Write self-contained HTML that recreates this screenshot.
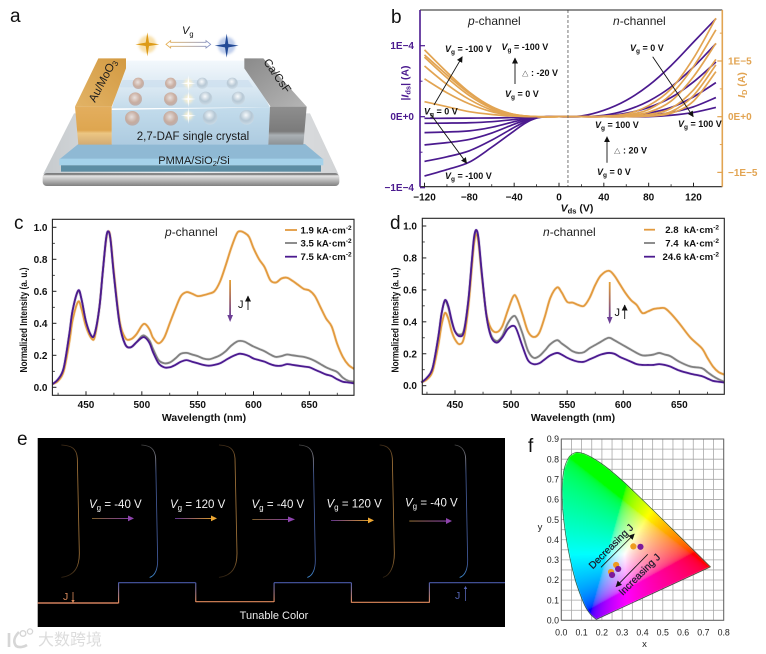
<!DOCTYPE html>
<html lang="en">
<head>
<meta charset="utf-8">
<title>2,7-DAF light-emitting transistor figure</title>
<style>
  html, body { margin: 0; padding: 0; background: #fff; }
  #stage { position: relative; width: 766px; height: 654px; overflow: hidden; background: #fff; font-family: "Liberation Sans", "Noto Sans CJK SC", sans-serif; }
  #stage svg, #stage canvas { position: absolute; left: 0; top: 0; }
  text { font-family: "Liberation Sans", "Noto Sans CJK SC", sans-serif; }
  .panel { font-size: 19px; fill: #111; }
  .ann { font-size: 9px; font-weight: 700; fill: #111; }
  .tick { font-size: 10px; font-weight: 700; fill: #111; }
  .leg { font-size: 9.6px; font-weight: 700; fill: #111; }
  .title { font-size: 12px; fill: #222; }
  .wh { font-size: 11.5px; fill: #f2f2f2; }
</style>
</head>
<body>
<div id="stage">

  <svg id="cie-grid-layer" width="766" height="654"></svg>
  <canvas id="cie-canvas" width="766" height="654"></canvas>

  <svg id="main" width="766" height="654" viewBox="0 0 766 654">
    <defs>
      <marker id="ah" markerUnits="userSpaceOnUse" markerWidth="7" markerHeight="7" refX="5.5" refY="3" orient="auto"><path d="M0 0L6 3L0 6Z" fill="#111"/></marker>
      <linearGradient id="gArrowDown" x1="0" y1="0" x2="0" y2="1"><stop offset="0" stop-color="#e5a032"/><stop offset="1" stop-color="#6d3f96"/></linearGradient>
      <linearGradient id="gOP" x1="0" y1="0" x2="1" y2="0"><stop offset="0" stop-color="#8a6a30"/><stop offset="1" stop-color="#8e44ad"/></linearGradient>
      <linearGradient id="gPO" x1="0" y1="0" x2="1" y2="0"><stop offset="0" stop-color="#6a3a9a"/><stop offset="1" stop-color="#eda733"/></linearGradient>
      <linearGradient id="gBrO" x1="0" y1="0" x2="0" y2="1"><stop offset="0" stop-color="#3f2c18"/><stop offset=".12" stop-color="#9c7038"/><stop offset=".85" stop-color="#9c7038"/><stop offset="1" stop-color="#2a1e10"/></linearGradient>
      <linearGradient id="gBrB" x1="0" y1="0" x2="0" y2="1"><stop offset="0" stop-color="#444"/><stop offset=".1" stop-color="#80808e"/><stop offset=".22" stop-color="#42578f"/><stop offset=".9" stop-color="#425a9c"/><stop offset="1" stop-color="#3f8ad0"/></linearGradient>
      <linearGradient id="gStepUp" x1="0" y1="1" x2="0" y2="0"><stop offset="0" stop-color="#e08a5c"/><stop offset="1" stop-color="#4a5aa8"/></linearGradient>
      <linearGradient id="gGold" x1="0" y1="0" x2="0" y2="1"><stop offset="0" stop-color="#e3ae5e"/><stop offset=".62" stop-color="#dea650"/><stop offset=".7" stop-color="#ecc683"/><stop offset="1" stop-color="#d2ab74"/></linearGradient>
      <linearGradient id="gGoldTop" x1="1" y1="0" x2="0" y2="1"><stop offset="0" stop-color="#d39a42"/><stop offset="1" stop-color="#e2b366"/></linearGradient>
      <linearGradient id="gSteel" x1="0" y1="0" x2="0" y2="1"><stop offset="0" stop-color="#8e8e8e"/><stop offset=".65" stop-color="#7b7b7b"/><stop offset=".75" stop-color="#aab0b4"/><stop offset="1" stop-color="#8c9296"/></linearGradient>
      <linearGradient id="gSteelTop" x1="0" y1="0" x2="1" y2="1"><stop offset="0" stop-color="#8a8a8a"/><stop offset="1" stop-color="#b5b5b5"/></linearGradient>
      <linearGradient id="gCrystal" x1="0" y1="0" x2="0" y2="1"><stop offset="0" stop-color="#f3f8fc"/><stop offset=".55" stop-color="#dbe9f3"/><stop offset="1" stop-color="#c4dbea"/></linearGradient>
      <linearGradient id="gFront" x1="0" y1="0" x2="0" y2="1"><stop offset="0" stop-color="#c3dcec"/><stop offset="1" stop-color="#adcbe0"/></linearGradient>
      <linearGradient id="gBaseBar" x1="0" y1="0" x2="0" y2="1"><stop offset="0" stop-color="#3a3a3a"/><stop offset=".2" stop-color="#e4e4e4"/><stop offset=".55" stop-color="#b8b8b8"/><stop offset="1" stop-color="#808080"/></linearGradient>
      <linearGradient id="gPlate" x1="0" y1="0" x2="1" y2="0"><stop offset="0" stop-color="#c6cacd"/><stop offset=".5" stop-color="#eef0f2"/><stop offset="1" stop-color="#d2d4d6"/></linearGradient>
      <linearGradient id="gLink" x1="0" y1="0" x2="1" y2="0"><stop offset="0" stop-color="#e8b050"/><stop offset="1" stop-color="#8090c8"/></linearGradient>
      <radialGradient id="gBallB" cx=".45" cy=".4" r=".7"><stop offset="0" stop-color="#efe2dc"/><stop offset=".55" stop-color="#c9a28e"/><stop offset="1" stop-color="#b5a7a8"/></radialGradient>
      <radialGradient id="gBallG" cx=".45" cy=".35" r=".7"><stop offset="0" stop-color="#ffffff"/><stop offset=".55" stop-color="#b3c4d1"/><stop offset="1" stop-color="#d2e0ea"/></radialGradient>
      <filter id="blur4" x="-80%" y="-80%" width="260%" height="260%"><feGaussianBlur stdDeviation="4"/></filter>
    </defs>

    <!-- ============ Panel a ============ -->
    <text class="panel" x="10" y="22">a</text>
    <g id="device" transform="scale(.33333)">
      <polygon points="222,340 930,340 1015,522 130,522" fill="url(#gPlate)"/>
      <rect x="128" y="520" width="890" height="38" rx="12" fill="url(#gBaseBar)"/>
      <polygon points="235,432 915,432 970,478 178,478" fill="#8fb9d4"/>
      <rect x="178" y="476" width="792" height="20" fill="#a5d2ea"/>
      <rect x="183" y="496" width="780" height="19" fill="#5d8da3"/>
      <polygon points="380,182 735,182 810,322 335,325" fill="url(#gCrystal)"/>
      <polygon points="335,330 810,322 805,434 335,434" fill="url(#gFront)"/>
      <polygon points="368,240 745,240 760,262 358,262" fill="#c8dcec" opacity=".6"/>
      <g opacity=".8">
        <circle cx="415" cy="250" r="17" fill="url(#gBallB)"/><circle cx="512" cy="250" r="17" fill="url(#gBallB)"/>
        <circle cx="406" cy="297" r="20" fill="url(#gBallB)"/><circle cx="512" cy="297" r="20" fill="url(#gBallB)"/>
        <circle cx="397" cy="355" r="22" fill="url(#gBallB)"/><circle cx="512" cy="355" r="22" fill="url(#gBallB)"/>
      </g>
      <g opacity=".85">
        <circle cx="607" cy="250" r="17" fill="url(#gBallG)"/><circle cx="697" cy="250" r="17" fill="url(#gBallG)"/>
        <circle cx="617" cy="295" r="20" fill="url(#gBallG)"/><circle cx="715" cy="295" r="20" fill="url(#gBallG)"/>
        <circle cx="630" cy="352" r="22" fill="url(#gBallG)"/><circle cx="740" cy="352" r="22" fill="url(#gBallG)"/>
      </g>
      <g>
        <circle cx="565" cy="250" r="13" fill="#fff3cc" opacity=".8" filter="url(#blur4)"/>
        <circle cx="565" cy="297" r="13" fill="#fff3cc" opacity=".8" filter="url(#blur4)"/>
        <circle cx="565" cy="347" r="13" fill="#fff3cc" opacity=".8" filter="url(#blur4)"/>
        <path d="M565 225L567.5 247.5L588 250L567.5 252.5L565 275L562.5 252.5L542 250L562.5 247.5Z" fill="#fff"/>
        <path d="M565 272L567.5 294.5L588 297L567.5 299.5L565 322L562.5 299.5L542 297L562.5 294.5Z" fill="#fff"/>
        <path d="M565 322L567.5 344.5L588 347L567.5 349.5L565 372L562.5 349.5L542 347L562.5 344.5Z" fill="#fff"/>
      </g>
      <polygon points="295,175 378,175 378,205 335,320 225,320" fill="url(#gGoldTop)"/>
      <polygon points="225,320 335,320 335,434 235,434" fill="url(#gGold)"/>
      <polygon points="733,175 790,175 920,320 812,320 733,205" fill="url(#gSteelTop)"/>
      <polygon points="810,320 920,320 910,434 805,434" fill="url(#gSteel)"/>
      <circle cx="442" cy="133" r="26" fill="#f2c25a" opacity=".5" filter="url(#blur4)"/>
      <path d="M442 97L447 128L478 133L447 138L442 169L437 138L406 133L437 128Z" fill="#dd9b17"/>
      <circle cx="680" cy="137" r="26" fill="#7f9cd8" opacity=".5" filter="url(#blur4)"/>
      <path d="M680 101L685 132L716 137L685 142L680 173L675 142L644 137L675 132Z" fill="#234a96"/>
      <path d="M498 133L512 122V127H618V122L632 133L618 144V139H512V144Z" fill="#fff" stroke="url(#gLink)" stroke-width="2.5"/>
    </g>
    <text x="182" y="34" font-size="11" font-style="italic" fill="#111">V<tspan font-size="7.5" dy="2.5" font-style="normal">g</tspan></text>
    <text x="193" y="140" font-size="11.5" text-anchor="middle" fill="#1c1c1c">2,7-DAF single crystal</text>
    <text x="194" y="164" font-size="11" text-anchor="middle" fill="#1c1c1c">PMMA/SiO<tspan font-size="7.5" dy="2">2</tspan><tspan dy="-2">/Si</tspan></text>
    <text transform="translate(95,103) rotate(-62)" font-size="11.5" fill="#1c1c1c">Au/MoO<tspan font-size="8" dy="2">3</tspan></text>
    <text transform="translate(263,62) rotate(55)" font-size="11.5" fill="#1c1c1c">Ca/CsF</text>

    <!-- ============ Panel b ============ -->
    <text class="panel" x="391" y="23">b</text>
    <g id="chart-b"></g>
    <text class="title" x="468" y="25"><tspan font-style="italic">p</tspan>-channel</text>
    <text class="title" x="613" y="25"><tspan font-style="italic">n</tspan>-channel</text>
    <g>
      <text class="ann" x="445" y="52"><tspan font-style="italic">V</tspan><tspan font-size="6.5" dy="2">g</tspan><tspan dy="-2"> = -100 V</tspan></text>
      <text class="ann" x="501.5" y="50"><tspan font-style="italic">V</tspan><tspan font-size="6.5" dy="2">g</tspan><tspan dy="-2"> = -100 V</tspan></text>
      <text class="ann" x="522" y="76"><tspan font-size="6.5">△</tspan> : -20 V</text>
      <text class="ann" x="505" y="97"><tspan font-style="italic">V</tspan><tspan font-size="6.5" dy="2">g</tspan><tspan dy="-2"> = 0 V</tspan></text>
      <text class="ann" x="424" y="114.5"><tspan font-style="italic">V</tspan><tspan font-size="6.5" dy="2">g</tspan><tspan dy="-2"> = 0 V</tspan></text>
      <text class="ann" x="445" y="179"><tspan font-style="italic">V</tspan><tspan font-size="6.5" dy="2">g</tspan><tspan dy="-2"> = -100 V</tspan></text>
      <text class="ann" x="630" y="51"><tspan font-style="italic">V</tspan><tspan font-size="6.5" dy="2">g</tspan><tspan dy="-2"> = 0 V</tspan></text>
      <text class="ann" x="595" y="128"><tspan font-style="italic">V</tspan><tspan font-size="6.5" dy="2">g</tspan><tspan dy="-2"> = 100 V</tspan></text>
      <text class="ann" x="614" y="153.5"><tspan font-size="6.5">△</tspan> : 20 V</text>
      <text class="ann" x="597" y="175"><tspan font-style="italic">V</tspan><tspan font-size="6.5" dy="2">g</tspan><tspan dy="-2"> = 0 V</tspan></text>
      <text class="ann" x="678" y="127"><tspan font-style="italic">V</tspan><tspan font-size="6.5" dy="2">g</tspan><tspan dy="-2"> = 100 V</tspan></text>
      <g fill="none" stroke="#111" stroke-width=".9" marker-end="url(#ah)">
        <line x1="434" y1="105" x2="462.3" y2="56.7"/>
        <line x1="515" y1="84" x2="515" y2="58"/>
        <line x1="430" y1="113.3" x2="466.7" y2="163.3"/>
        <line x1="652.7" y1="56.7" x2="693.3" y2="116.7"/>
        <line x1="607" y1="162.7" x2="607" y2="136.7"/>
      </g>
    </g>

    <!-- ============ Panel c ============ -->
    <text class="panel" x="14" y="229">c</text>
    <g id="chart-c"></g>
    <text class="title" x="165" y="236"><tspan font-style="italic">p</tspan>-channel</text>
    <g>
      <line x1="285" x2="297" y1="230" y2="230" stroke="#e29a3e" stroke-width="1.8"/>
      <text class="leg" x="300.5" y="233.5">1.9 kA·cm<tspan font-size="6.5" dy="-3.5">-2</tspan></text>
      <line x1="285" x2="297" y1="243" y2="243" stroke="#808080" stroke-width="1.8"/>
      <text class="leg" x="300.5" y="246.5">3.5 kA·cm<tspan font-size="6.5" dy="-3.5">-2</tspan></text>
      <line x1="285" x2="297" y1="256.7" y2="256.7" stroke="#4b1a8f" stroke-width="1.8"/>
      <text class="leg" x="300.5" y="260">7.5 kA·cm<tspan font-size="6.5" dy="-3.5">-2</tspan></text>
    </g>
    <g>
      <rect x="229.2" y="280" width="1.8" height="36" fill="url(#gArrowDown)"/>
      <path d="M227.3 315L233 315L230.1 322Z" fill="#6d3f96"/>
      <text x="238" y="308" font-size="11" fill="#111">J</text>
      <line x1="248" y1="310" x2="248" y2="296" stroke="#111" stroke-width=".9" marker-end="url(#ah)"/>
    </g>

    <!-- ============ Panel d ============ -->
    <text class="panel" x="390" y="229">d</text>
    <g id="chart-d"></g>
    <text class="title" x="543" y="236"><tspan font-style="italic">n</tspan>-channel</text>
    <g>
      <line x1="644" x2="655" y1="229.7" y2="229.7" stroke="#e29a3e" stroke-width="1.8"/>
      <text class="leg" x="719" y="233" text-anchor="end" xml:space="preserve">2.8  kA·cm<tspan font-size="6.5" dy="-3.5">-2</tspan></text>
      <line x1="644" x2="655" y1="243" y2="243" stroke="#808080" stroke-width="1.8"/>
      <text class="leg" x="719" y="246.5" text-anchor="end" xml:space="preserve">7.4  kA·cm<tspan font-size="6.5" dy="-3.5">-2</tspan></text>
      <line x1="644" x2="655" y1="256.7" y2="256.7" stroke="#4b1a8f" stroke-width="1.8"/>
      <text class="leg" x="719" y="260" text-anchor="end">24.6 kA·cm<tspan font-size="6.5" dy="-3.5">-2</tspan></text>
    </g>
    <g>
      <rect x="608.8" y="282" width="1.8" height="36" fill="url(#gArrowDown)"/>
      <path d="M606.9 317L612.5 317L609.7 324Z" fill="#6d3f96"/>
      <text x="614.5" y="316" font-size="11" fill="#111">J</text>
      <line x1="624.7" y1="319" x2="624.7" y2="305" stroke="#111" stroke-width=".9" marker-end="url(#ah)"/>
    </g>

    <!-- ============ Panel e ============ -->
    <text class="panel" x="17" y="445">e</text>
    <g>
      <rect x="37.7" y="438" width="467.3" height="189" fill="#000"/>
      <g transform="translate(0,430) scale(.33333)" fill="none" stroke-width="2.6" stroke-linecap="round">
        <path d="M185 45C215 47 230 55 232 85L238 370C238 410 225 436 185 442" stroke="url(#gBrO)"/>
        <path transform="translate(235,0)" d="M190 45C215 47 230 55 232 85L238 390C238 420 230 436 215 442" stroke="url(#gBrB)"/>
        <path transform="translate(473,0)" d="M185 45C215 47 230 55 232 85L238 370C238 410 225 436 185 442" stroke="url(#gBrO)"/>
        <path transform="translate(708,0)" d="M190 45C215 47 230 55 232 85L238 390C238 420 230 436 215 442" stroke="url(#gBrB)"/>
        <path transform="translate(945,0)" d="M195 45C215 47 230 55 232 85L238 370C238 410 225 436 205 442" stroke="url(#gBrO)"/>
        <path transform="translate(1165,0)" d="M200 45C215 47 230 55 232 85L238 390C238 420 230 436 215 442" stroke="url(#gBrB)"/>
        <g stroke-linecap="butt">
          <path d="M113 519H355" stroke="#cf7f5c" stroke-width="4.5"/>
          <path d="M355 458H587" stroke="#4a5aa8" stroke-width="3.5"/>
          <path d="M587 515H822" stroke="#e08a5c" stroke-width="3.5"/>
          <path d="M822 458H1054" stroke="#4a5aa8" stroke-width="3.5"/>
          <path d="M1054 517H1288" stroke="#e08a5c" stroke-width="3.5"/>
          <path d="M1288 458H1515" stroke="#4a5aa8" stroke-width="3.5"/>
        </g>
        <rect x="354" y="458" width="3.5" height="62" fill="url(#gStepUp)" stroke="none"/>
        <rect x="585.5" y="458" width="3.5" height="58" fill="url(#gStepUp)" stroke="none"/>
        <rect x="820.5" y="458" width="3.5" height="58" fill="url(#gStepUp)" stroke="none"/>
        <rect x="1052.5" y="458" width="3.5" height="60" fill="url(#gStepUp)" stroke="none"/>
        <rect x="1286.5" y="458" width="3.5" height="60" fill="url(#gStepUp)" stroke="none"/>
      </g>
      <text class="wh" x="89" y="508"><tspan font-style="italic">V</tspan><tspan font-size="8" dy="2.5">g</tspan><tspan dy="-2.5"> = -40 V</tspan></text>
      <text class="wh" x="170" y="508"><tspan font-style="italic">V</tspan><tspan font-size="8" dy="2.5">g</tspan><tspan dy="-2.5"> = 120 V</tspan></text>
      <text class="wh" x="251.5" y="508"><tspan font-style="italic">V</tspan><tspan font-size="8" dy="2.5">g</tspan><tspan dy="-2.5"> = -40 V</tspan></text>
      <text class="wh" x="326.5" y="507.5"><tspan font-style="italic">V</tspan><tspan font-size="8" dy="2.5">g</tspan><tspan dy="-2.5"> = 120 V</tspan></text>
      <text class="wh" x="405" y="506.5"><tspan font-style="italic">V</tspan><tspan font-size="8" dy="2.5">g</tspan><tspan dy="-2.5"> = -40 V</tspan></text>
      <g>
        <rect x="92" y="518" width="37" height=".9" fill="url(#gOP)"/><path d="M128 515.5L134 518.4L128 521.3Z" fill="#8e44ad"/>
        <rect x="175" y="518" width="37" height=".9" fill="url(#gPO)"/><path d="M211 515.5L217 518.4L211 521.3Z" fill="#eda733"/>
        <rect x="252.3" y="519" width="37" height=".9" fill="url(#gOP)"/><path d="M288 516.5L295 519.4L288 522.3Z" fill="#8e44ad"/>
        <rect x="331" y="520" width="37" height=".9" fill="url(#gPO)"/><path d="M368 517.5L374 520.4L368 523.3Z" fill="#eda733"/>
        <rect x="409.3" y="520.5" width="37" height="1.1" fill="url(#gOP)"/><path d="M446 518L452 521L446 524Z" fill="#8e44ad"/>
      </g>
      <text x="63" y="600" font-size="10.5" fill="#d98a5c">J</text>
      <line x1="73" y1="592" x2="73" y2="601" stroke="#d98a5c" stroke-width=".8"/>
      <path d="M71.3 600L74.7 600L73 603Z" fill="#d98a5c"/>
      <text x="455" y="599" font-size="10.5" fill="#5565b5">J</text>
      <line x1="465.5" y1="601" x2="465.5" y2="588" stroke="#5565b5" stroke-width=".8"/>
      <path d="M463.8 589L467.2 589L465.5 586Z" fill="#5565b5"/>
      <text x="274" y="619" font-size="11" text-anchor="middle" fill="#eee">Tunable Color</text>
    </g>

    <!-- Watermark -->
    <g>
      <path d="M9 633V647M19 632C14 637 13 642 16 646C19 648 24 647 27 645" fill="none" stroke="#d6d6d6" stroke-width="2.6"/>
      <circle cx="23" cy="633.5" r="2.8" fill="none" stroke="#d6d6d6" stroke-width="1.3"/>
      <circle cx="30" cy="631.5" r="2.6" fill="none" stroke="#d6d6d6" stroke-width="1.3"/>
      <text x="38" y="645" font-size="16" fill="#dcdcdc">大数跨境</text>
    </g>

    <!-- ============ Panel f ============ -->
    <text class="panel" x="528" y="452">f</text>
    <g id="chart-f"></g>
    <g>
      <line x1="601" y1="567.3" x2="634.3" y2="534" stroke="#111" stroke-width=".8" marker-end="url(#ah)"/>
      <text transform="translate(611.5,547) rotate(-45)" font-size="10" stroke="#1a1a2a" stroke-width=".25" fill="#1a1a2a" text-anchor="middle" dominant-baseline="middle">Decreasing J</text>
      <line x1="647.7" y1="554.3" x2="616" y2="586.7" stroke="#111" stroke-width=".8" marker-end="url(#ah)"/>
      <text transform="translate(640,575) rotate(-45)" font-size="10" stroke="#1a1a2a" stroke-width=".25" fill="#1a1a2a" text-anchor="middle" dominant-baseline="middle">Increasing J</text>
    </g>
  </svg>
</div>

<script>
/* ---------- Panel b data ---------- */
const vdsP = [-120,-100,-80,-60,-40,-30,-20,-10,0];
const idsPChannel = [
  [-0.836,-0.745,-0.64,-0.43,-0.2,-0.09,-0.02,0,0],
  [-0.63,-0.565,-0.48,-0.33,-0.15,-0.07,-0.015,0,0],
  [-0.397,-0.365,-0.32,-0.23,-0.105,-0.05,-0.012,0,0],
  [-0.224,-0.215,-0.2,-0.15,-0.07,-0.035,-0.01,0,0],
  [-0.093,-0.09,-0.085,-0.07,-0.04,-0.02,-0.005,0,0],
  [-0.023,-0.022,-0.02,-0.018,-0.012,-0.008,-0.003,0,0]
];
const vdsN = [0,20,40,60,80,100,120,140];
const idsNChannel = [
  [0,0.01,0.09,0.23,0.44,0.72,1.05,1.38],
  [0,0,0.02,0.09,0.22,0.42,0.70,1.03],
  [0,0,0.01,0.05,0.13,0.27,0.49,0.77],
  [0,0,0,0.01,0.05,0.13,0.28,0.48],
  [0,0,0,0,0.02,0.06,0.14,0.27],
  [0,0,0,0,0,0.02,0.06,0.13]
];
const vdsLightP = [-120,-100,-80,-60,-40,-20,0];
const lightPChannel = [
  [1.2,0.8,0.44,0.18,0.04,0,0],
  [1.11,0.75,0.42,0.17,0.04,0,0],
  [1.07,0.70,0.38,0.15,0.035,0,0],
  [0.91,0.58,0.31,0.12,0.03,0,0],
  [0.68,0.43,0.23,0.09,0.02,0,0],
  [0.27,0.18,0.09,0.04,0.01,0,0]
];
const lightNChannel = [
  [0,0,0.01,0.05,0.2,0.5,1.05,1.77],
  [0,0,0,0.03,0.13,0.4,0.9,1.56],
  [0,0,0,0.02,0.08,0.28,0.72,1.32],
  [0,0,0,0.01,0.04,0.15,0.48,1.03],
  [0,0,0,0,0.02,0.09,0.38,0.93],
  [0,0,0,0,0.01,0.06,0.28,0.81]
];
const bXTicks = [-120,-80,-40,0,40,80,120];
const bXTickLabels = ['−120','−80','−40','0','40','80','120'];
const bXMinor = [-100,-60,-20,20,60,100];
const bLeftTicks = [1,0,-1];
const bLeftLabels = ['1E−4','0E+0','−1E−4'];
const bLeftMinor = [0.5,-0.5];
const bRightTicks = [1,0,-1];
const bRightLabels = ['1E−5','0E+0','−1E−5'];
const bRightMinor = [1.5,0.5,-0.5];
const channelDividerV = 8;

/* ---------- Panel c data ---------- */
const wavelengthsC = [
  420,425,430,435,438,443,446,450,455,458,
  462,465,468,470,472,475,480,485,490,495,
  500,503,507,510,515,520,525,530,535,540,
  545,550,555,560,565,570,575,580,585,588,
  592,596,600,605,610,615,620,625,630,635,
  640,645,650,655,660,665,670,675,680,685,690];
const pOrange = [
  .02,.04,.10,.28,.42,.535,.49,.38,.305,.32,
  .50,.72,.92,.975,.93,.72,.42,.31,.30,.33,
  .385,.395,.36,.31,.275,.31,.40,.49,.57,.595,
  .585,.57,.575,.585,.60,.66,.76,.87,.96,.975,
  .965,.94,.87,.80,.75,.67,.655,.68,.685,.665,
  .64,.615,.605,.57,.50,.43,.38,.27,.19,.14,.115];
const pGray = [
  .02,.05,.12,.33,.48,.60,.55,.41,.32,.34,
  .50,.72,.93,.97,.92,.70,.40,.27,.25,.28,
  .32,.32,.29,.24,.17,.15,.155,.18,.21,.215,
  .205,.195,.18,.175,.185,.20,.225,.26,.285,.29,
  .285,.27,.255,.24,.225,.205,.19,.195,.205,.20,
  .195,.19,.18,.165,.145,.125,.11,.095,.06,.04,.035];
const pPurple = [
  .02,.05,.12,.33,.48,.605,.55,.41,.32,.34,
  .50,.72,.93,.975,.92,.70,.40,.27,.25,.28,
  .31,.31,.275,.22,.15,.125,.125,.14,.16,.17,
  .16,.15,.14,.135,.14,.15,.17,.19,.205,.21,
  .205,.195,.18,.17,.16,.145,.135,.135,.145,.14,
  .135,.13,.125,.11,.095,.08,.07,.05,.035,.03,.025];

/* ---------- Panel d data ---------- */
const wavelengthsD = [
  420,425,430,435,438,441,444,447,450,454,
  458,462,465,467,469,471,474,478,482,487,
  492,497,502,505,510,515,520,525,530,535,
  541,545,550,555,560,565,570,575,580,587,
  592,597,602,607,612,617,622,627,632,637,
  642,650,660,670,675,680,685,690];
const nOrange = [
  .02,.04,.09,.25,.38,.455,.42,.34,.29,.26,
  .30,.50,.74,.89,.95,.89,.68,.45,.36,.335,
  .37,.47,.56,.55,.45,.34,.305,.33,.43,.55,
  .615,.585,.525,.52,.505,.50,.55,.63,.69,.72,
  .69,.635,.58,.535,.505,.455,.465,.48,.485,.485,
  .455,.39,.30,.235,.175,.12,.085,.07];
const nGray = [
  .02,.05,.11,.30,.45,.53,.49,.40,.34,.32,
  .35,.54,.78,.92,.97,.91,.69,.44,.32,.28,
  .31,.39,.435,.42,.33,.22,.175,.185,.22,.26,
  .285,.265,.24,.215,.205,.21,.235,.255,.275,.30,
  .285,.265,.245,.225,.205,.19,.19,.195,.205,.195,
  .185,.15,.12,.11,.085,.06,.04,.025];
const nPurple = [
  .02,.05,.11,.30,.45,.535,.50,.41,.34,.31,
  .34,.54,.78,.93,.975,.92,.70,.44,.31,.27,
  .30,.355,.375,.35,.25,.16,.135,.14,.165,.19,
  .205,.195,.175,.16,.15,.15,.165,.18,.195,.205,
  .20,.18,.165,.15,.135,.13,.13,.13,.135,.13,
  .12,.095,.075,.06,.045,.03,.025,.02];

const specXTicks = [450,500,550,600,650];
const specXMinor = [425,475,525,575,625,675];
const specYTicks = [0,0.2,0.4,0.6,0.8,1.0];
const specYTickLabels = ['0.0','0.2','0.4','0.6','0.8','1.0'];
const specYMinor = [0.1,0.3,0.5,0.7,0.9];

/* ---------- Panel f data ---------- */
const locusX = [.1741,.1714,.1644,.1566,.1440,.1241,.1096,.0913,.0687,.0454,.0235,.0082,.0039,.0139,.0389,.0743,.1142,.1547,.1929,.2296,.3016,.3731,.4441,.5125,.5752,.6270,.6658,.6915,.7190,.7347];
const locusY = [.0050,.0051,.0109,.0177,.0297,.0578,.0868,.1327,.2007,.2950,.4127,.5384,.6548,.7502,.8120,.8338,.8262,.8059,.7816,.7543,.6923,.6245,.5547,.4866,.4242,.3725,.3340,.3083,.2809,.2653];
const cieOrangeX = [.355,.27,.245];
const cieOrangeY = [.367,.275,.24];
const ciePurpleX = [.39,.28,.25];
const ciePurpleY = [.365,.255,.225];
const cieXTicks = [0,.1,.2,.3,.4,.5,.6,.7,.8];
const cieYTicks = [0,.1,.2,.3,.4,.5,.6,.7,.8,.9];
const cieXGridSteps = [.05,.15,.25,.35,.45,.55,.65,.75];
const cieYGridSteps = [.05,.15,.25,.35,.45,.55,.65,.75,.85];

/* ---------- Helpers ---------- */
const NS = 'http://www.w3.org/2000/svg';
function mk(tag, parent, attrs) {
  const el = document.createElementNS(NS, tag);
  for (const k in attrs) el.setAttribute(k, attrs[k]);
  parent.appendChild(el);
  return el;
}
function smooth(xs, ys, fx, fy) {
  const p = xs.map((x, i) => [fx(x), fy(ys[i])]);
  let d = 'M' + p[0][0].toFixed(2) + ' ' + p[0][1].toFixed(2);
  for (let i = 0; i < p.length - 1; i++) {
    const a = p[Math.max(i - 1, 0)], b = p[i], c = p[i + 1], e = p[Math.min(i + 2, p.length - 1)];
    const c1x = b[0] + (c[0] - a[0]) / 6, c1y = b[1] + (c[1] - a[1]) / 6;
    const c2x = c[0] - (e[0] - b[0]) / 6, c2y = c[1] - (e[1] - b[1]) / 6;
    d += 'C' + c1x.toFixed(2) + ' ' + c1y.toFixed(2) + ' ' + c2x.toFixed(2) + ' ' + c2y.toFixed(2) + ' ' + c[0].toFixed(2) + ' ' + c[1].toFixed(2);
  }
  return d;
}

/* ---------- Panel b ---------- */
(function () {
  const g = document.getElementById('chart-b');
  const L = 420, R = 722.3, T = 10, B = 186.7;
  const x = v => 559 + v * 1.1208;
  const yL = v => 116.7 - v * 71;
  const yR = v => 116.7 - v * 55.7;
  const PURPLE = '#4b1a8f', ORANGE = '#e2a452';

  idsPChannel.forEach(s => {
    const p = mk('path', g, { d: smooth(vdsP, s, x, yL), fill: 'none', stroke: PURPLE, 'stroke-width': 1.7 });
    
    
  });
  idsNChannel.forEach(s => {
    const p = mk('path', g, { d: smooth(vdsN, s, x, yL), fill: 'none', stroke: PURPLE, 'stroke-width': 1.7 });
    
    
  });
  lightPChannel.forEach(s => {
    const p = mk('path', g, { d: smooth(vdsLightP, s, x, yR), fill: 'none', stroke: ORANGE, 'stroke-width': 1.7 });
    
    
  });
  lightNChannel.forEach(s => {
    const p = mk('path', g, { d: smooth(vdsN, s, x, yR), fill: 'none', stroke: ORANGE, 'stroke-width': 1.7 });
    
    
  });

  const dv = mk('line', g, { x1: x(channelDividerV), x2: x(channelDividerV), y1: T, y2: B, stroke: '#555', 'stroke-width': .8, 'stroke-dasharray': '3 2' });
  
  

  const topA = mk('line', g, { x1: L, x2: R, y1: T, y2: T, stroke: '#222', 'stroke-width': 1 });
  
  
  const botA = mk('line', g, { x1: L, x2: R, y1: B, y2: B, stroke: '#222', 'stroke-width': 1.2 });
  
  
  const leftA = mk('line', g, { x1: L, x2: L, y1: T, y2: B, stroke: PURPLE, 'stroke-width': 1.6 });
  
  
  const rightA = mk('line', g, { x1: R, x2: R, y1: T, y2: B, stroke: ORANGE, 'stroke-width': 1.6 });
  
  

  bXTicks.forEach((v, i) => {
    const t = mk('line', g, { x1: x(v), x2: x(v), y1: B, y2: B - 4, stroke: '#222', 'stroke-width': 1 });
    
    
    const l = mk('text', g, { x: x(v), y: 200.5, class: 'tick', 'text-anchor': 'middle' });
    l.textContent = bXTickLabels[i];
    
    
  });
  bXMinor.forEach(v => {
    const t = mk('line', g, { x1: x(v), x2: x(v), y1: B, y2: B - 2.5, stroke: '#222', 'stroke-width': .8 });
    
    
  });
  bLeftTicks.forEach((v, i) => {
    const t = mk('line', g, { x1: L, x2: L + 5, y1: yL(v), y2: yL(v), stroke: PURPLE, 'stroke-width': 1.2 });
    
    
    const l = mk('text', g, { x: 414, y: yL(v) + 3.5, class: 'tick', 'text-anchor': 'end', style: 'fill:' + PURPLE });
    l.textContent = bLeftLabels[i];
    
    
  });
  bLeftMinor.forEach(v => {
    const t = mk('line', g, { x1: L, x2: L + 2.5, y1: yL(v), y2: yL(v), stroke: PURPLE, 'stroke-width': 1 });
    
    
  });
  bRightTicks.forEach((v, i) => {
    const t = mk('line', g, { x1: R - 5, x2: R, y1: yR(v), y2: yR(v), stroke: ORANGE, 'stroke-width': 1.2 });
    
    
    const l = mk('text', g, { x: 728, y: yR(v) + 3.5, class: 'tick', style: 'fill:' + ORANGE });
    l.textContent = bRightLabels[i];
    
    
  });
  bRightMinor.forEach(v => {
    const t = mk('line', g, { x1: R - 2.5, x2: R, y1: yR(v), y2: yR(v), stroke: ORANGE, 'stroke-width': 1 });
    
    
  });

  g.insertAdjacentHTML('beforeend',
    '<text x="577" y="211.5" font-size="10.5" font-weight="700" fill="#111" text-anchor="middle"><tspan font-style="italic">V</tspan><tspan font-size="7.5" dy="2">ds</tspan><tspan dy="-2"> (V)</tspan></text>' +
    '<text transform="translate(408.5,83) rotate(-90)" font-size="10.5" font-weight="700" fill="#4b1a8f" text-anchor="middle">|<tspan font-style="italic">I</tspan><tspan font-size="7.5" dy="2">ds</tspan><tspan dy="-2">| (A)</tspan></text>' +
    '<text transform="translate(745,85) rotate(-90)" font-size="10.5" font-weight="700" fill="#e2a452" text-anchor="middle"><tspan font-style="italic">I</tspan><tspan font-size="7.5" dy="2">D</tspan><tspan dy="-2"> (A)</tspan></text>');
})();

/* ---------- Panels c & d ---------- */
(function () {
  const panels = [
    { id: 'chart-c', L: 52.4, R: 354, T: 219.3, B: 395.3, x0: 86, xs: 1.1167, y0: 387.3, ys: 160, tickX: 47.5, titleX: 23.5, titleXC: 204,
      wl: wavelengthsC, series: [pOrange, pGray, pPurple] },
    { id: 'chart-d', L: 422.3, R: 724.3, T: 218.3, B: 394.3, x0: 455, xs: 1.1217, y0: 385.7, ys: 159.7, tickX: 417, titleX: 395, titleXC: 573,
      wl: wavelengthsD, series: [nOrange, nGray, nPurple] }
  ];
  const COLORS = ['#e29a3e', '#808080', '#4b1a8f'];
  const HALOS = ['#f6dcb8', '#dcdcdc', '#d8cceb'];
  panels.forEach(c => {
    const g = document.getElementById(c.id);
    const x = w => c.x0 + (w - 450) * c.xs;
    const y = v => c.y0 - v * c.ys;
    c.series.forEach((s, i) => {
      const h = mk('path', g, { d: smooth(c.wl, s, x, y), fill: 'none', stroke: HALOS[i], 'stroke-width': 3, opacity: .7 });
      
      
    });
    c.series.forEach((s, i) => {
      const p = mk('path', g, { d: smooth(c.wl, s, x, y), fill: 'none', stroke: COLORS[i], 'stroke-width': 1.8, 'stroke-linejoin': 'round' });
      
      
    });
    const fr = mk('rect', g, { x: c.L, y: c.T, width: c.R - c.L, height: c.B - c.T, fill: 'none', stroke: '#222', 'stroke-width': 1.1 });
    
    
    specXTicks.forEach(w => {
      const t = mk('line', g, { x1: x(w), x2: x(w), y1: c.B, y2: c.B - 4, stroke: '#222', 'stroke-width': 1 });
      
      
      const l = mk('text', g, { x: x(w), y: 408, class: 'tick', 'text-anchor': 'middle' });
      l.textContent = w;
      
      
    });
    specXMinor.forEach(w => {
      const t = mk('line', g, { x1: x(w), x2: x(w), y1: c.B, y2: c.B - 2.5, stroke: '#222', 'stroke-width': .8 });
      
      
    });
    specYTicks.forEach((v, i) => {
      const t = mk('line', g, { x1: c.L, x2: c.L + 4, y1: y(v), y2: y(v), stroke: '#222', 'stroke-width': 1 });
      
      
      const l = mk('text', g, { x: c.tickX, y: y(v) + 3.5, class: 'tick', 'text-anchor': 'end' });
      l.textContent = specYTickLabels[i];
      
      
    });
    specYMinor.forEach(v => {
      const t = mk('line', g, { x1: c.L, x2: c.L + 2.5, y1: y(v), y2: y(v), stroke: '#222', 'stroke-width': .8 });
      
      
    });
    const xt = mk('text', g, { x: c.titleXC, y: 421, 'font-size': 10.5, 'font-weight': 700, fill: '#111', 'text-anchor': 'middle' });
    xt.textContent = 'Wavelength (nm)';
    
    
    const yt = mk('text', g, { transform: 'translate(' + (c.titleX + 3.5) + ',320) rotate(-90)', 'font-size': 10.5, 'font-weight': 700, fill: '#111', 'text-anchor': 'middle', textLength: 105, lengthAdjust: 'spacingAndGlyphs' });
    yt.textContent = 'Normalized Intensity (a. u.)';
    
    
  });
})();

/* ---------- Panel f ---------- */
(function () {
  const L = 561.3, R = 723.7, T = 439, B = 620.3;
  const x = v => L + v * 203;
  const y = v => B - v * 201.4;
  const gridSvg = document.getElementById('cie-grid-layer');
  const g = document.getElementById('chart-f');

  const bg = mk('rect', gridSvg, { x: L, y: T, width: R - L, height: B - T, fill: '#fff' });
  
  
  cieXTicks.concat(cieXGridSteps).forEach(v => {
    const t = mk('line', gridSvg, { x1: x(v), x2: x(v), y1: T, y2: B, stroke: '#a8a8a8', 'stroke-width': .8 });
    
    
  });
  cieYTicks.concat(cieYGridSteps).forEach(v => {
    const t = mk('line', gridSvg, { x1: L, x2: R, y1: y(v), y2: y(v), stroke: '#a8a8a8', 'stroke-width': .8 });
    
    
  });

  /* Chromaticity fill, clipped to the spectral locus */
  const cv = document.getElementById('cie-canvas');
  const ctx = cv.getContext('2d');
  const off = document.createElement('canvas');
  off.width = 766; off.height = 654;
  const octx = off.getContext('2d');
  const img = octx.createImageData(766, 654);
  const gamma = c => Math.round(255 * Math.pow(Math.min(1, Math.max(0, c)), 1 / 2.7));
  for (let py = Math.floor(T); py <= B; py++) {
    for (let px = Math.floor(L); px <= R; px++) {
      const cx = (px + .5 - L) / 203, cy = (B - py - .5) / 201.4;
      if (cy <= 0.002) continue;
      const X = cx / cy, Y = 1, Z = (1 - cx - cy) / cy;
      let r = 3.2406 * X - 1.5372 * Y - .4986 * Z;
      let gr = -.9689 * X + 1.8758 * Y + .0415 * Z;
      let b = .0557 * X - .2040 * Y + 1.0570 * Z;
      r = Math.max(r, 0); gr = Math.max(gr, 0); b = Math.max(b, 0);
      const m = Math.max(r, gr, b) || 1;
      const i = (py * 766 + px) * 4;
      img.data[i] = gamma(r / m);
      img.data[i + 1] = gamma(gr / m);
      img.data[i + 2] = gamma(b / m);
      img.data[i + 3] = 255;
    }
  }
  octx.putImageData(img, 0, 0);
  ctx.save();
  ctx.beginPath();
  locusX.forEach((v, i) => { if (i) ctx.lineTo(x(v), y(locusY[i])); else ctx.moveTo(x(v), y(locusY[i])); });
  ctx.closePath();
  ctx.clip();
  ctx.drawImage(off, 0, 0);
  ctx.restore();

  const ol = mk('path', g, { d: smooth(locusX, locusY, x, y) + 'Z', fill: 'none', stroke: '#1c4a28', 'stroke-width': .6 });
  
  
  const fr = mk('rect', g, { x: L, y: T, width: R - L, height: B - T, fill: 'none', stroke: '#666', 'stroke-width': 1 });
  
  

  cieXTicks.forEach(v => {
    const l = mk('text', g, { x: x(v), y: 635.5, 'font-size': 8.8, fill: '#222', 'text-anchor': 'middle' });
    l.textContent = v.toFixed(1);
    
    
  });
  cieYTicks.forEach(v => {
    const l = mk('text', g, { x: 559, y: y(v) + 3.2, 'font-size': 8.8, fill: '#222', 'text-anchor': 'end' });
    l.textContent = v.toFixed(1);
    
    
  });
  const xl = mk('text', g, { x: 644.5, y: 647, 'font-size': 9.5, fill: '#222', 'text-anchor': 'middle' });
  xl.textContent = 'x';
  
  
  const yl = mk('text', g, { x: 540, y: 530, 'font-size': 9.5, fill: '#222', 'text-anchor': 'middle' });
  yl.textContent = 'y';
  
  

  cieOrangeX.forEach((v, i) => {
    const c = mk('circle', g, { cx: x(v), cy: y(cieOrangeY[i]), r: 3.1, fill: '#ee9b1e' });
    
    
  });
  ciePurpleX.forEach((v, i) => {
    const c = mk('circle', g, { cx: x(v), cy: y(ciePurpleY[i]), r: 3.1, fill: '#7d1a9c' });
    
    
  });
})();
</script>
</body>
</html>
